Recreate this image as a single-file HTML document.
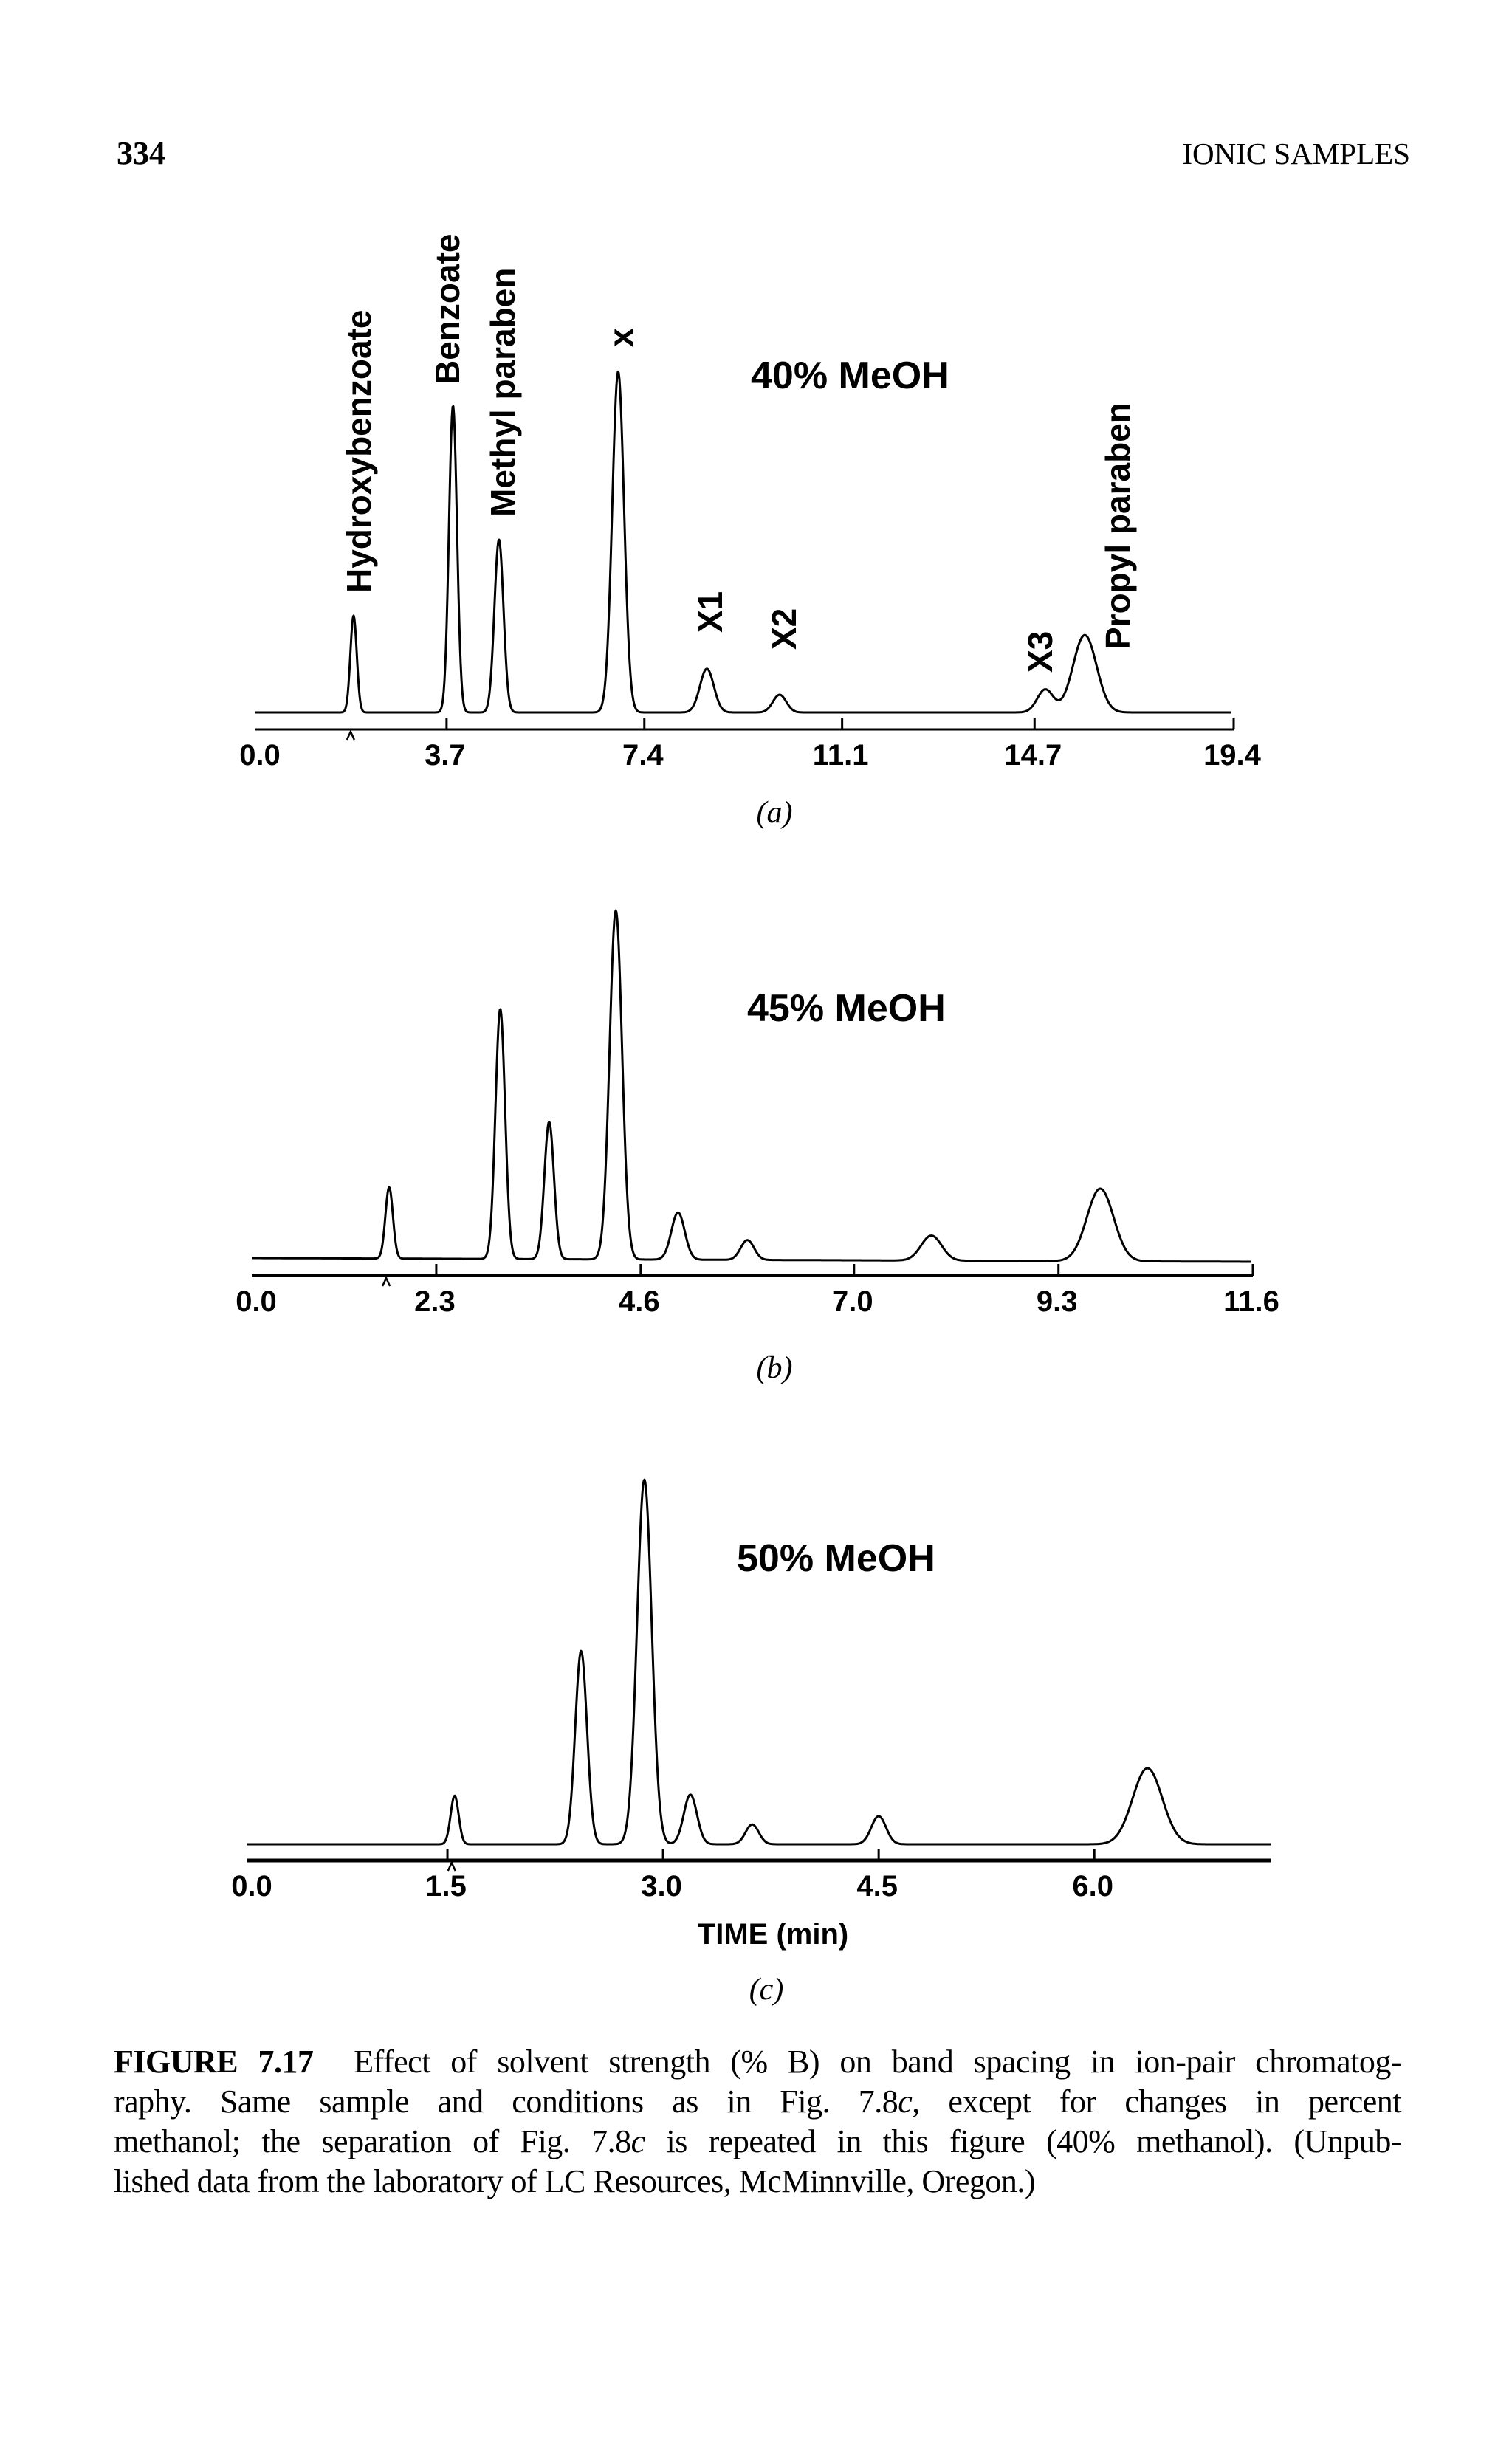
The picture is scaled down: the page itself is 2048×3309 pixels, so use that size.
<!DOCTYPE html>
<html><head><meta charset="utf-8">
<style>
html,body{margin:0;padding:0;background:#fff;}
body{width:2048px;height:3309px;position:relative;overflow:hidden;}
svg{position:absolute;left:0;top:0;}
.cap{position:absolute;left:154px;width:1744px;font-family:"Liberation Serif",serif;font-size:44px;color:#000;text-align:justify;text-align-last:justify;white-space:nowrap;line-height:54px;letter-spacing:-0.5px;}
</style></head>
<body>
<svg id="fig" width="2048" height="3309" viewBox="0 0 2048 3309">
<text x="158" y="222" font-family="Liberation Serif, serif" font-weight="bold" font-size="44">334</text>
<text x="1910" y="222" text-anchor="end" font-family="Liberation Serif, serif" font-size="41">IONIC SAMPLES</text>
</svg>
<div class="cap" style="top:2766px"><b>FIGURE 7.17</b>&nbsp; Effect of solvent strength (% B) on band spacing in ion-pair chromatog-</div>
<div class="cap" style="top:2820px">raphy. Same sample and conditions as in Fig. 7.8<i>c</i>, except for changes in percent</div>
<div class="cap" style="top:2874px">methanol; the separation of Fig. 7.8<i>c</i> is repeated in this figure (40% methanol). (Unpub-</div>
<div class="cap" style="top:2928px;text-align-last:left;">lished data from the laboratory of LC Resources, McMinnville, Oregon.)</div>
<script>
// ---- data ----
const timesA = [1.96, 3.82, 4.68, 6.91, 8.57, 9.93, 14.9, 15.64];
const heightsA = [27.9, 88.5, 49.8, 98.3, 12.6, 5.1, 6.6, 22.3];
const sigmasA = [0.06, 0.075, 0.085, 0.11, 0.13, 0.125, 0.15, 0.22];
const ticksA = [0.0, 3.7, 7.4, 11.1, 14.7, 19.4];

const timesB = [1.77, 3.02, 3.57, 4.32, 5.02, 5.80, 7.87, 9.77];
const heightsB = [20.6, 72.1, 39.6, 100.6, 13.6, 5.7, 7.2, 20.9];
const sigmasB = [0.042, 0.054, 0.054, 0.07, 0.075, 0.075, 0.115, 0.15];
const ticksB = [0.0, 2.3, 4.6, 7.0, 9.3, 11.6];

const timesC = [1.55, 2.43, 2.87, 3.19, 3.62, 4.50, 6.37];
const heightsC = [14.0, 55.7, 105.1, 14.3, 5.7, 8.1, 21.9];
const sigmasC = [0.028, 0.041, 0.051, 0.046, 0.046, 0.051, 0.103];
const ticksC = [0.0, 1.5, 3.0, 4.5, 6.0];

const NS = 'http://www.w3.org/2000/svg';
const svg = document.getElementById('fig');
function mk(tag, attrs, parent) {
  const e = document.createElementNS(NS, tag);
  for (const k in attrs) e.setAttribute(k, attrs[k]);
  (parent || svg).appendChild(e);
  return e;
}
const KY = 4.7;

function panel(cfg) {
  const g = mk('g', {});
  
  
  const xs = t => cfg.x0 + t * cfg.k;
  const ys = h => cfg.base - h * KY;
  let d = '';
  const xStart = cfg.axStart, xEnd = cfg.traceEnd;
  for (let px = xStart; px <= xEnd; px += 1) {
    const t = (px - cfg.x0) / cfg.k;
    let h = 0;
    for (let i = 0; i < cfg.times.length; i++) {
      const z = (t - cfg.times[i]) / cfg.sig[i];
      h += cfg.heights[i] * Math.exp(-0.5 * z * z);
    }
    const drift = cfg.drift ? cfg.drift * (px - xStart) / (xEnd - xStart) : 0;
    d += (d ? 'L' : 'M') + px + ' ' + (ys(h) + drift).toFixed(1);
  }
  const tr = mk('path', {d: d, fill: 'none', stroke: '#000', 'stroke-width': 3, 'stroke-linejoin': 'round'}, g);
  
  
  const ax = mk('line', {x1: cfg.axStart, x2: cfg.axEnd, y1: cfg.axisY, y2: cfg.axisY, stroke: '#000', 'stroke-width': cfg.axW}, g);
  
  
  cfg.ticks.forEach((v, i) => {
    let tx = Math.min(xs(v), cfg.axEnd);
    if (i === 0) tx = cfg.axStart;
    if (i > 0) {
      const tk = mk('line', {x1: tx, x2: tx, y1: cfg.axisY, y2: cfg.axisY - 16, stroke: '#000', 'stroke-width': 3}, g);
      
      
    }
    const lb = mk('text', {x: tx + (i === 0 ? 6 : -2), y: cfg.axisY + 48, 'text-anchor': 'middle', 'font-family': 'Liberation Sans, sans-serif', 'font-weight': 'bold', 'font-size': 40}, g);
    lb.textContent = v.toFixed(1);
    
    
  });
  const cx = xs(cfg.times[0]) - 4;
  const ca = mk('polyline', {points: (cx - 5) + ',' + (cfg.axisY + 14) + ' ' + cx + ',' + (cfg.axisY + 3) + ' ' + (cx + 5) + ',' + (cfg.axisY + 14), fill: 'none', stroke: '#000', 'stroke-width': 2.5}, g);
  
  
  const ti = mk('text', {x: cfg.titleX, y: cfg.titleY, 'font-family': 'Liberation Sans, sans-serif', 'font-weight': 'bold', 'font-size': 52}, g);
  ti.textContent = cfg.title;
  
  
  const pl = mk('text', {x: cfg.letterX, y: cfg.letterY, 'text-anchor': 'middle', 'font-family': 'Liberation Serif, serif', 'font-style': 'italic', 'font-size': 42}, g);
  pl.textContent = '(' + cfg.letter + ')';
  
  
  return g;
}

const gA = panel({name: 'panel-a', times: timesA, heights: heightsA, sig: sigmasA, ticks: ticksA,
  x0: 337, k: 72.4, base: 965, axisY: 988, axStart: 346, axEnd: 1671, traceEnd: 1668, axW: 3,
  title: '40% MeOH', titleX: 1017, titleY: 526, letter: 'a', letterX: 1049, letterY: 1114});
const gB = panel({name: 'panel-b', times: timesB, heights: heightsB, sig: sigmasB, ticks: ticksB,
  x0: 314, k: 120.4, base: 1704, drift: 5, axisY: 1728, axStart: 341, axEnd: 1697, traceEnd: 1694, axW: 4,
  title: '45% MeOH', titleX: 1012, titleY: 1383, letter: 'b', letterX: 1049, letterY: 1866});
const gC = panel({name: 'panel-c', times: timesC, heights: heightsC, sig: sigmasC, ticks: ticksC,
  x0: 314, k: 194.7, base: 2498, axisY: 2520, axStart: 335, axEnd: 1721, traceEnd: 1721, axW: 5,
  title: '50% MeOH', titleX: 998, titleY: 2128, letter: 'c', letterX: 1038, letterY: 2708});

const xt = mk('text', {x: 1047, y: 2633, 'text-anchor': 'middle', 'font-family': 'Liberation Sans, sans-serif', 'font-weight': 'bold', 'font-size': 40}, gC);
xt.textContent = 'TIME (min)';



const peakNames = ['Hydroxybenzoate', 'Benzoate', 'Methyl paraben', 'x', 'X1', 'X2', 'X3', 'Propyl paraben'];
const labelBottoms = [803, 521, 700, 470, 857, 880, 911, 880];
const labelCx = [486, 606, 681, 841, 962, 1062, 1409, 1514];
peakNames.forEach((n, i) => {
  const x = labelCx[i] + 16, y = labelBottoms[i];
  const t = mk('text', {x: x, y: y, transform: 'rotate(-90 ' + x + ' ' + y + ')', 'font-family': 'Liberation Sans, sans-serif', 'font-weight': 'bold', 'font-size': 46}, gA);
  t.textContent = n;
  
  
});
</script>
</body></html>
